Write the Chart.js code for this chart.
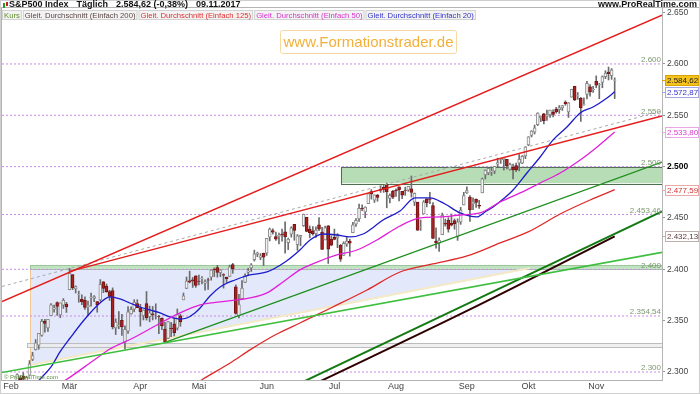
<!DOCTYPE html>
<html>
<head>
<meta charset="utf-8">
<script src="https://cdn.jsdelivr.net/npm/chart.js@4.4.1/dist/chart.umd.min.js"></script>
<style>
  html, body { margin: 0; padding: 0; background: #fff; }
</style>
</head>
<body>
<canvas id="chart" width="700" height="394"></canvas>
<script>
// S&P500 daily candles, 30.01.2017 .. 09.11.2017
const days = [
  '30.01','31.01',
  '01.02','02.02','03.02','06.02','07.02','08.02','09.02','10.02','13.02','14.02','15.02','16.02','17.02','21.02','22.02','23.02','24.02','27.02','28.02',
  '01.03','02.03','03.03','06.03','07.03','08.03','09.03','10.03','13.03','14.03','15.03','16.03','17.03','20.03','21.03','22.03','23.03','24.03','27.03','28.03','29.03','30.03','31.03',
  '03.04','04.04','05.04','06.04','07.04','10.04','11.04','12.04','13.04','17.04','18.04','19.04','20.04','21.04','24.04','25.04','26.04','27.04','28.04',
  '01.05','02.05','03.05','04.05','05.05','08.05','09.05','10.05','11.05','12.05','15.05','16.05','17.05','18.05','19.05','22.05','23.05','24.05','25.05','26.05','30.05','31.05',
  '01.06','02.06','05.06','06.06','07.06','08.06','09.06','12.06','13.06','14.06','15.06','16.06','19.06','20.06','21.06','22.06','23.06','26.06','27.06','28.06','29.06','30.06',
  '03.07','05.07','06.07','07.07','10.07','11.07','12.07','13.07','14.07','17.07','18.07','19.07','20.07','21.07','24.07','25.07','26.07','27.07','28.07','31.07',
  '01.08','02.08','03.08','04.08','07.08','08.08','09.08','10.08','11.08','14.08','15.08','16.08','17.08','18.08','21.08','22.08','23.08','24.08','25.08','28.08','29.08','30.08','31.08',
  '01.09','05.09','06.09','07.09','08.09','11.09','12.09','13.09','14.09','15.09','18.09','19.09','20.09','21.09','22.09','25.09','26.09','27.09','28.09','29.09',
  '02.10','03.10','04.10','05.10','06.10','09.10','10.10','11.10','12.10','13.10','16.10','17.10','18.10','19.10','20.10','23.10','24.10','25.10','26.10','27.10','30.10','31.10',
  '01.11','02.11','03.11','06.11','07.11','08.11','09.11'
];

const open = [
  2286.0, 2274.0,
  2285.6, 2276.7, 2288.5, 2294.3, 2295.9, 2289.6, 2296.7, 2312.3, 2321.7, 2326.1, 2335.6, 2349.6, 2343.0, 2354.9, 2361.1, 2367.5, 2355.7, 2365.2, 2366.1,
  2380.1, 2394.8, 2380.9, 2375.2, 2370.7, 2369.8, 2363.5, 2372.5, 2371.6, 2368.6, 2370.3, 2387.7, 2383.7, 2378.2, 2379.3, 2343.0, 2345.1, 2350.4, 2329.1, 2339.8, 2356.5, 2361.3, 2366.6,
  2362.3, 2354.8, 2366.6, 2353.8, 2356.6, 2357.2, 2353.9, 2352.2, 2341.9, 2332.6, 2342.5, 2346.8, 2342.7, 2354.7, 2370.3, 2381.5, 2388.9, 2389.7, 2393.7,
  2388.5, 2391.1, 2386.5, 2389.8, 2392.4, 2399.9, 2401.6, 2396.8, 2394.8, 2392.4, 2393.0, 2404.6, 2382.9, 2354.7, 2371.4, 2387.2, 2397.0, 2401.4, 2409.5, 2414.5, 2411.7, 2415.6,
  2415.7, 2431.3, 2437.8, 2431.9, 2432.0, 2434.3, 2436.4, 2425.9, 2434.2, 2443.8, 2424.1, 2431.2, 2442.6, 2450.7, 2439.3, 2437.4, 2434.7, 2443.3, 2436.3, 2428.7, 2442.4, 2429.2,
  2431.4, 2430.8, 2423.4, 2413.5, 2424.5, 2427.4, 2435.8, 2444.0, 2449.2, 2459.5, 2455.9, 2463.9, 2475.6, 2467.4, 2472.0, 2477.9, 2479.9, 2482.8, 2469.1, 2475.9,
  2477.1, 2480.4, 2476.0, 2476.9, 2477.1, 2478.4, 2465.4, 2465.4, 2441.0, 2454.0, 2468.7, 2468.6, 2462.0, 2427.6, 2425.5, 2433.8, 2444.9, 2447.9, 2444.7, 2447.4, 2431.9, 2446.1, 2462.7,
  2474.4, 2470.4, 2463.8, 2468.1, 2462.3, 2474.5, 2491.9, 2493.9, 2494.6, 2495.7, 2502.5, 2506.3, 2506.8, 2507.2, 2497.3, 2499.4, 2501.0, 2503.3, 2503.4, 2510.4,
  2521.2, 2530.3, 2533.5, 2540.9, 2547.4, 2551.4, 2549.0, 2550.6, 2552.9, 2555.7, 2555.6, 2557.2, 2562.9, 2553.4, 2567.6, 2578.1, 2568.7, 2566.5, 2560.1, 2570.3, 2577.8, 2575.0,
  2583.2, 2579.5, 2581.9, 2587.5, 2592.1, 2588.7, 2584.0
];

const high = [
  2286.0, 2279.1,
  2289.1, 2283.0, 2298.3, 2296.2, 2299.4, 2295.9, 2311.1, 2319.2, 2331.6, 2337.6, 2351.3, 2351.3, 2351.2, 2366.7, 2365.1, 2368.3, 2367.3, 2371.5, 2367.8,
  2401.0, 2394.8, 2383.9, 2378.8, 2375.1, 2373.1, 2369.1, 2376.9, 2374.4, 2368.6, 2390.0, 2388.1, 2385.7, 2379.6, 2381.9, 2351.8, 2358.9, 2356.2, 2344.9, 2363.8, 2363.4, 2370.4, 2370.4,
  2365.9, 2360.5, 2378.4, 2364.2, 2363.8, 2366.4, 2355.2, 2352.7, 2348.3, 2349.1, 2348.4, 2352.6, 2361.4, 2356.2, 2376.9, 2392.5, 2398.2, 2392.1, 2393.7,
  2394.5, 2392.9, 2389.8, 2391.4, 2399.3, 2401.4, 2403.9, 2399.7, 2395.7, 2392.4, 2404.1, 2405.8, 2384.9, 2375.7, 2389.1, 2395.5, 2400.9, 2405.6, 2418.7, 2416.7, 2415.3, 2415.8,
  2430.1, 2440.2, 2439.5, 2436.2, 2435.3, 2439.3, 2446.2, 2430.4, 2441.5, 2443.8, 2433.9, 2433.2, 2453.8, 2450.7, 2442.2, 2441.6, 2441.4, 2450.4, 2441.0, 2442.0, 2442.7, 2432.7,
  2439.2, 2434.8, 2424.3, 2426.9, 2432.0, 2429.3, 2445.8, 2449.3, 2463.5, 2462.8, 2460.9, 2473.8, 2477.6, 2472.5, 2473.1, 2481.2, 2481.7, 2484.0, 2473.5, 2477.0,
  2478.5, 2480.4, 2476.0, 2480.0, 2480.9, 2490.9, 2474.4, 2465.4, 2448.1, 2467.0, 2468.7, 2474.9, 2465.0, 2440.3, 2430.6, 2454.8, 2448.9, 2450.4, 2453.9, 2449.1, 2449.2, 2460.3, 2475.0,
  2480.4, 2471.9, 2469.6, 2468.6, 2467.1, 2488.9, 2496.8, 2498.4, 2498.4, 2500.2, 2508.3, 2507.8, 2508.9, 2507.2, 2503.5, 2502.5, 2503.5, 2511.8, 2510.8, 2519.4,
  2529.2, 2535.1, 2540.5, 2552.5, 2549.4, 2551.8, 2555.2, 2555.2, 2555.3, 2557.7, 2559.5, 2559.7, 2564.1, 2562.4, 2575.4, 2578.3, 2572.2, 2567.4, 2567.1, 2583.0, 2580.0, 2578.3,
  2588.4, 2581.1, 2588.4, 2593.4, 2597.0, 2595.5, 2586.5
];

const low = [
  2268.0, 2267.2,
  2272.4, 2271.7, 2287.9, 2288.0, 2290.2, 2285.4, 2296.6, 2311.1, 2321.4, 2322.2, 2334.8, 2338.9, 2339.6, 2354.9, 2358.3, 2355.1, 2352.9, 2361.9, 2358.0,
  2380.1, 2380.2, 2376.9, 2367.9, 2365.5, 2361.0, 2354.5, 2364.2, 2368.5, 2358.2, 2368.9, 2377.2, 2377.6, 2369.7, 2341.9, 2336.5, 2342.1, 2335.7, 2322.3, 2337.6, 2356.2, 2358.6, 2362.6,
  2344.7, 2350.7, 2350.5, 2348.9, 2350.7, 2351.5, 2337.3, 2341.2, 2328.9, 2332.5, 2334.5, 2335.1, 2340.9, 2344.5, 2370.3, 2381.2, 2386.8, 2382.4, 2382.4,
  2384.8, 2385.8, 2379.8, 2380.4, 2389.4, 2392.9, 2392.4, 2392.8, 2381.7, 2387.2, 2393.0, 2396.1, 2356.2, 2352.7, 2370.4, 2386.9, 2393.9, 2397.9, 2408.0, 2412.2, 2409.4, 2403.6,
  2413.5, 2427.7, 2434.3, 2428.1, 2424.8, 2427.4, 2415.7, 2419.2, 2431.3, 2428.3, 2418.5, 2422.9, 2441.8, 2436.6, 2430.7, 2433.3, 2431.1, 2437.6, 2419.4, 2428.7, 2405.7, 2422.9,
  2428.7, 2421.1, 2407.7, 2413.5, 2422.3, 2412.8, 2435.6, 2441.7, 2446.7, 2457.2, 2450.3, 2463.9, 2468.4, 2465.1, 2466.3, 2474.9, 2474.9, 2459.9, 2464.7, 2468.9,
  2471.1, 2466.5, 2468.9, 2472.1, 2475.9, 2470.3, 2462.1, 2437.8, 2437.9, 2454.0, 2460.8, 2463.9, 2430.0, 2420.7, 2417.4, 2433.7, 2442.0, 2436.2, 2442.2, 2439.0, 2428.2, 2443.8, 2462.7,
  2473.9, 2446.6, 2458.0, 2460.3, 2459.4, 2474.5, 2488.0, 2492.1, 2491.4, 2493.2, 2499.9, 2503.2, 2496.7, 2497.8, 2496.5, 2488.0, 2495.1, 2495.9, 2502.9, 2507.8,
  2520.4, 2528.9, 2531.8, 2540.0, 2543.8, 2541.6, 2544.9, 2547.9, 2548.3, 2552.1, 2551.9, 2554.7, 2559.7, 2547.9, 2567.6, 2564.3, 2565.6, 2544.0, 2559.8, 2565.9, 2568.7, 2572.2,
  2576.8, 2566.2, 2576.8, 2585.7, 2584.4, 2585.0, 2566.3
];

const close = [
  2280.9, 2278.9,
  2279.6, 2280.9, 2297.4, 2292.6, 2293.1, 2294.7, 2307.9, 2316.1, 2328.3, 2337.6, 2349.3, 2347.2, 2351.2, 2365.4, 2362.8, 2363.8, 2367.3, 2369.8, 2363.6,
  2396.0, 2381.9, 2383.1, 2375.3, 2368.4, 2363.0, 2364.9, 2372.6, 2373.5, 2365.5, 2385.3, 2381.4, 2378.3, 2373.5, 2344.0, 2348.5, 2346.0, 2344.0, 2341.6, 2358.6, 2361.1, 2368.1, 2362.7,
  2358.8, 2360.2, 2353.0, 2357.5, 2355.5, 2357.2, 2353.8, 2344.9, 2329.0, 2349.0, 2342.2, 2338.2, 2355.8, 2348.7, 2374.2, 2388.6, 2387.5, 2388.8, 2384.2,
  2388.3, 2391.2, 2388.1, 2389.5, 2399.3, 2399.4, 2396.9, 2399.6, 2394.4, 2390.9, 2402.3, 2400.7, 2357.0, 2365.7, 2381.7, 2394.0, 2398.4, 2404.4, 2415.1, 2415.8, 2412.9, 2411.8,
  2430.1, 2439.1, 2436.1, 2429.3, 2433.1, 2433.8, 2431.8, 2429.4, 2440.4, 2437.9, 2432.5, 2433.2, 2453.5, 2437.0, 2435.6, 2434.5, 2438.3, 2439.1, 2419.4, 2440.7, 2419.7, 2423.4,
  2429.0, 2432.5, 2409.8, 2425.2, 2427.4, 2425.5, 2443.3, 2447.8, 2459.3, 2459.1, 2460.6, 2473.8, 2473.5, 2472.5, 2469.9, 2477.1, 2477.8, 2475.4, 2472.1, 2470.3,
  2476.4, 2477.6, 2472.2, 2476.8, 2480.9, 2474.9, 2474.0, 2438.2, 2441.3, 2465.8, 2464.6, 2468.1, 2430.0, 2425.6, 2428.4, 2452.5, 2444.0, 2439.0, 2443.1, 2444.2, 2446.3, 2457.6, 2471.7,
  2476.6, 2457.9, 2465.5, 2465.1, 2461.4, 2488.1, 2496.5, 2498.4, 2495.6, 2500.2, 2503.9, 2506.7, 2508.2, 2500.6, 2502.2, 2496.7, 2496.8, 2507.0, 2510.1, 2519.4,
  2529.1, 2534.6, 2537.7, 2552.1, 2549.3, 2544.7, 2550.6, 2555.2, 2550.9, 2553.2, 2557.6, 2559.4, 2561.3, 2562.1, 2575.2, 2565.0, 2569.1, 2557.2, 2560.4, 2581.1, 2572.8, 2575.3,
  2579.4, 2579.9, 2587.8, 2591.1, 2590.6, 2594.4, 2584.6
];

// moving averages: [day index, value]
const sma20 = [[10.5,2290],[12.1,2295.1],[15.0,2304.9],[17.9,2319.5],[21.2,2333.1],[26.0,2351.6],[30.9,2367.2],[34.1,2373.1],[37.4,2371.1],[40.6,2367.2],[43.9,2363.3],[47.1,2360.4],[50.4,2357.5],[53.6,2353.6],[56.9,2351.6],[59.1,2352.6],[61.7,2357.5],[63.4,2362.3],[66.6,2374.0],[69.9,2382.8],[74.7,2389.6],[79.6,2394.5],[85.1,2397.4],[91.0,2407.1],[95.8,2418.8],[99.1,2428.6],[103.3,2434.4],[107.8,2433.4],[112.1,2431.5],[116.3,2434.4],[120.2,2442.2],[122.8,2448.1],[128.3,2456.8],[133.2,2469.5],[138.0,2469.5],[142.9,2463.6],[147.8,2454.9],[153.3,2451.0],[155.9,2455.8],[158.5,2460.7],[161.8,2468.5],[165.0,2477.3],[169.5,2493.8],[173.8,2509.4],[178.0,2526.0],[182.5,2538.6],[186.8,2552.3],[191.0,2558.1],[195.5,2566.9],[198,2572.87]];
const sma50 = [[17,2287],[21.2,2295.0],[29.0,2311.7],[34.1,2322.4],[41.6,2333.1],[49.4,2345.8],[56.9,2357.5],[63.4,2365.3],[69.9,2368.2],[79.6,2372.1],[85.1,2377.0],[90.3,2387.7],[95.8,2399.4],[101.4,2407.1],[107.8,2414.0],[114.3,2418.8],[120.8,2428.6],[128.3,2442.2],[134.8,2450.0],[141.3,2451.0],[147.8,2452.9],[154.3,2454.9],[160.8,2465.6],[167.3,2474.4],[173.8,2484.1],[180.3,2493.8],[186.8,2506.5],[192.3,2519.2],[198,2533.8]];
const sma125 = [[60,2285],[64,2292.5],[73.8,2310],[79.6,2321.5],[87.7,2336.0],[95.8,2347.7],[106.5,2363.3],[117.6,2379.9],[128.3,2397.4],[138.9,2405.2],[150.1,2413.0],[160.8,2425.7],[169.9,2436.4],[180.3,2453.9],[190.0,2467.5],[198,2477.59]];
const sma200 = [[100,2287.5],[151,2361],[198,2432.13]];

// drawn trend lines: [day index, value]
const redUpper = [[-0.92,2368.6],[213.36,2647.5]];
const redLower = [[21,2398],[213.36,2549.4]];
const greyDashed = [[-0.92,2383.3],[213.36,2554.2]];
const greenMid = [[52,2328.9],[213.36,2504.4]];
const greenLight = [[-0.92,2299.5],[213.36,2416.5]];
const greenLow = [[92.6,2284.4],[213.36,2456.3]];
const beigeEdge = [[8.2,2306.8],[170.5,2401.3]];

// zones
const rangeWedge = [[8.2,2400.5],[170.5,2400.5],[8.2,2306.8]];
const band2400 = [8.2, 213.36, 2400.5, 2404];
const band2500 = [109.1, 213.36, 2483.8, 2500];
const greyBand = [7.2, 213.36, 2324.3, 2328.2];

const levels = [2600, 2550, 2500, 2453.46, 2400, 2354.54, 2300];
const yTicks = [2300, 2350, 2400, 2450, 2500, 2550, 2600, 2650];
const monthNames = { '02': 'Feb', '03': 'Mär', '04': 'Apr', '05': 'Mai', '06': 'Jun', '07': 'Jul', '08': 'Aug', '09': 'Sep', '10': 'Okt', '11': 'Nov' };

const tags = [
  { v: 2584.62, bg: '#f6c21c', fg: '#222', border: '#d9a400' },
  { v: 2572.87, bg: '#fff', fg: '#3434c4', border: '#a4a8e0' },
  { v: 2533.80, bg: '#fff', fg: '#d43ccf', border: '#eaa6e6' },
  { v: 2477.59, bg: '#fff', fg: '#d63333', border: '#eaa8a8' },
  { v: 2432.13, bg: '#fff', fg: '#5e3a3a', border: '#bfaeae' }
];

const titleParts = ['S&P500 Index', 'Täglich', '2.584,62 (-0,38%)', '09.11.2017'];

const legendItems = [
  { text: 'Kurs', color: '#5f8f2f' },
  { text: 'Gleit. Durchschnitt (Einfach 200)', color: '#5a4646' },
  { text: 'Gleit. Durchschnitt (Einfach 125)', color: '#e03030' },
  { text: 'Gleit. Durchschnitt (Einfach 50)', color: '#d830d0' },
  { text: 'Gleit. Durchschnitt (Einfach 20)', color: '#3434c8' }
];

const F = '"Liberation Sans", Arial, sans-serif';

function deNum(v, dec) {
  const parts = v.toFixed(dec).split('.');
  const int = parts[0].replace(/\B(?=(\d{3})+(?!\d))/g, '.');
  return parts[1] ? int + ',' + parts[1] : int;
}

const monthStarts = [];
const monthLabelAt = {};
days.forEach((d, k) => {
  const m = d.slice(3);
  if (k > 0 && m !== days[k - 1].slice(3) && monthNames[m]) {
    monthStarts.push(k);
    monthLabelAt[k] = monthNames[m];
  }
});

const toXY = (arr) => arr.map(([x, y]) => ({ x, y }));
const isDown = (k) => close[k] < open[k];

const lineDs = (data, color, width, extra) => Object.assign({
  type: 'line',
  data: toXY(data),
  borderColor: color,
  borderWidth: width,
  pointRadius: 0,
  fill: false,
  cubicInterpolationMode: 'monotone'
}, extra || {});

const datasets = [];
levels.forEach((v) => {
  datasets.push(lineDs([[-0.92, v], [213.36, v]], '#c98be6', 1, { borderDash: [2, 2], order: 10 }));
});
datasets.push(lineDs(beigeEdge, '#f4e9c6', 2, { order: 9 }));
datasets.push({
  type: 'bar',
  data: days.map((d, k) => ({ x: k, y: [low[k], high[k]] })),
  backgroundColor: '#6c6c6c',
  barThickness: 1,
  grouped: false,
  order: 8
});
datasets.push({
  type: 'bar',
  data: days.map((d, k) => ({ x: k, y: [open[k], close[k]] })),
  backgroundColor: (c) => isDown(c.dataIndex) ? '#a82222' : '#f4f4f4',
  borderColor: (c) => isDown(c.dataIndex) ? '#741313' : '#8a8a8a',
  borderWidth: 1,
  borderSkipped: false,
  barThickness: 3,
  grouped: false,
  order: 7
});
datasets.push(lineDs(greyDashed, '#a8a8a8', 1, { borderDash: [3, 3], order: 5 }));
datasets.push(lineDs(sma200, '#2e0000', 2, { order: 4 }));
datasets.push(lineDs(sma125, '#e02828', 1.3, { order: 4 }));
datasets.push(lineDs(sma50, '#e020d8', 1.3, { order: 4 }));
datasets.push(lineDs(sma20, '#1c1cc8', 1.3, { order: 4 }));
datasets.push(lineDs(greenLight, '#3fbf3f', 1.6, { order: 3 }));
datasets.push(lineDs(greenMid, '#1f8f1f', 1.4, { order: 3 }));
datasets.push(lineDs(greenLow, '#137a13', 2, { order: 3 }));
datasets.push(lineDs(redUpper, '#e41c1c', 1.5, { order: 3 }));
datasets.push(lineDs(redLower, '#e41c1c', 1.5, { order: 3 }));

const zonesPlugin = {
  id: 'zones',
  beforeDatasetsDraw(chart) {
    const { ctx, chartArea: a, scales: { x, y } } = chart;
    ctx.save();
    ctx.beginPath();
    ctx.rect(a.left, a.top, a.right - a.left, a.bottom - a.top);
    ctx.clip();

    // range wedge
    ctx.beginPath();
    rangeWedge.forEach(([dx, dv], i) => {
      const px = x.getPixelForValue(dx), py = y.getPixelForValue(dv);
      if (i === 0) ctx.moveTo(px, py); else ctx.lineTo(px, py);
    });
    ctx.closePath();
    ctx.fillStyle = 'rgba(224,231,251,0.9)';
    ctx.fill();
    ctx.strokeStyle = '#f2c995';
    ctx.lineWidth = 1;
    ctx.beginPath();
    ctx.moveTo(Math.round(x.getPixelForValue(rangeWedge[0][0])) + 0.5, y.getPixelForValue(rangeWedge[0][1]));
    ctx.lineTo(Math.round(x.getPixelForValue(rangeWedge[2][0])) + 0.5, y.getPixelForValue(rangeWedge[2][1]));
    ctx.stroke();

    const rect = (b, fill, stroke) => {
      const x0 = x.getPixelForValue(b[0]), x1 = x.getPixelForValue(b[1]);
      const y0 = y.getPixelForValue(b[3]), y1 = y.getPixelForValue(b[2]);
      ctx.fillStyle = fill;
      ctx.fillRect(x0, y0, x1 - x0, y1 - y0);
      ctx.strokeStyle = stroke;
      ctx.strokeRect(Math.round(x0) + 0.5, Math.round(y0) + 0.5, Math.round(x1 - x0), Math.round(y1 - y0));
    };
    rect(greyBand, 'rgba(236,236,236,0.8)', '#bdbdbd');
    rect(band2400, '#bfe2bf', '#9cc79c');
    rect(band2500, '#b7ddb7', '#4f6d4f');
    ctx.restore();
  },
  afterDatasetsDraw(chart) {
    const { ctx, chartArea: a, scales: { y } } = chart;
    ctx.save();
    ctx.font = '8px ' + F;
    ctx.fillStyle = '#7d9870';
    ctx.textAlign = 'right';
    ctx.textBaseline = 'bottom';
    levels.forEach((v) => {
      ctx.fillText(deNum(v, Number.isInteger(v) ? 0 : 2), a.right - 1, y.getPixelForValue(v));
    });

    // watermark
    ctx.fillStyle = '#fff';
    ctx.strokeStyle = '#f6d8a2';
    ctx.lineWidth = 1;
    ctx.beginPath();
    ctx.roundRect(280.5, 30.5, 176, 23, 2);
    ctx.fill();
    ctx.stroke();
    ctx.font = '15px ' + F;
    ctx.fillStyle = '#f3b03a';
    ctx.textAlign = 'center';
    ctx.textBaseline = 'middle';
    ctx.fillText('www.Formationstrader.de', 368.5, 42.5);

    ctx.font = '6px ' + F;
    ctx.fillStyle = '#5b8b3b';
    ctx.textAlign = 'left';
    ctx.fillText('\u00a9 ProRealTime.com', a.left + 2, a.bottom - 3);
    ctx.restore();
  },
  afterDraw(chart) {
    const { ctx, chartArea: a, scales: { y } } = chart;
    ctx.save();
    ctx.strokeStyle = '#b4b4b4';
    ctx.lineWidth = 1;
    ctx.strokeRect(a.left - 0.5, a.top - 0.5, a.right - a.left + 1, a.bottom - a.top + 1);
    ctx.beginPath();
    ctx.moveTo(a.right, a.top - 0.5);
    ctx.lineTo(700, a.top - 0.5);
    ctx.stroke();
    ctx.strokeStyle = '#cfcfcf';
    ctx.strokeRect(0.5, 0.5, 699, 393);

    // title
    ctx.fillStyle = '#2a9a2a';
    ctx.fillRect(3, 3, 2, 5);
    ctx.fillStyle = '#c02020';
    ctx.fillRect(6, 2, 2, 4);
    ctx.fillStyle = '#111';
    ctx.font = 'bold 9px ' + F;
    ctx.textBaseline = 'middle';
    ctx.textAlign = 'left';
    let tx = 9;
    titleParts.forEach((s) => {
      ctx.fillText(s, tx, 5);
      tx += ctx.measureText(s).width + 8;
    });
    ctx.textAlign = 'right';
    ctx.fillText('www.ProRealTime.com', 697, 5);

    // legend row
    ctx.font = '7.7px ' + F;
    ctx.textAlign = 'left';
    let lx = a.left;
    legendItems.forEach((it) => {
      const w = ctx.measureText(it.text).width + 4;
      ctx.fillStyle = 'rgba(242,242,242,0.95)';
      ctx.fillRect(lx, 10, w, 10);
      ctx.strokeStyle = '#d2d2d2';
      ctx.strokeRect(lx + 0.5, 10.5, w - 1, 9);
      ctx.fillStyle = it.color;
      ctx.fillText(it.text, lx + 2, 15.5);
      lx += w + 1;
    });

    // value tags on the price axis
    ctx.font = '8px ' + F;
    tags.forEach((t) => {
      const py = Math.round(y.getPixelForValue(t.v));
      ctx.fillStyle = t.bg;
      ctx.fillRect(665, py - 5, 34, 11);
      ctx.strokeStyle = t.border;
      ctx.strokeRect(665.5, py - 4.5, 33, 10);
      ctx.beginPath();
      ctx.moveTo(a.right, py + 0.5);
      ctx.lineTo(665, py + 0.5);
      ctx.stroke();
      ctx.fillStyle = t.fg;
      ctx.textBaseline = 'middle';
      ctx.fillText(deNum(t.v, 2), 667, py + 0.5);
    });
    ctx.restore();
  }
};

new Chart(document.getElementById('chart'), {
  type: 'line',
  data: { datasets },
  options: {
    responsive: false,
    devicePixelRatio: 1,
    animation: false,
    events: [],
    layout: { padding: { left: 2, top: 8, right: 0, bottom: 0 } },
    plugins: { legend: { display: false }, tooltip: { enabled: false }, title: { display: false } },
    scales: {
      x: {
        type: 'linear',
        min: -0.92,
        max: 213.36,
        offset: false,
        afterFit: (s) => { s.height = 14; },
        afterBuildTicks: (s) => { s.ticks = monthStarts.map((v) => ({ value: v })); },
        ticks: {
          autoSkip: false,
          maxRotation: 0,
          padding: 1,
          color: '#444',
          font: { size: 9, family: F },
          callback: (v) => monthLabelAt[v] || ''
        },
        grid: { display: false, drawTicks: false, tickLength: 0, offset: false },
        border: { display: true, color: '#b4b4b4' }
      },
      y: {
        type: 'linear',
        position: 'right',
        min: 2292.2,
        max: 2654.5,
        afterFit: (s) => { s.width = 38; },
        afterBuildTicks: (s) => { s.ticks = yTicks.map((v) => ({ value: v })); },
        ticks: {
          padding: 2,
          color: (c) => c.tick && c.tick.value === 2500 ? '#000' : '#444',
          font: (c) => ({ size: 8.5, family: F, weight: c.tick && c.tick.value === 2500 ? 'bold' : 'normal' }),
          callback: (v) => deNum(v, 0)
        },
        grid: { drawOnChartArea: false, drawTicks: true, tickLength: 3, color: '#999', offset: false },
        border: { display: true, color: '#b4b4b4' }
      }
    }
  },
  plugins: [zonesPlugin]
});
</script>
</body>
</html>
